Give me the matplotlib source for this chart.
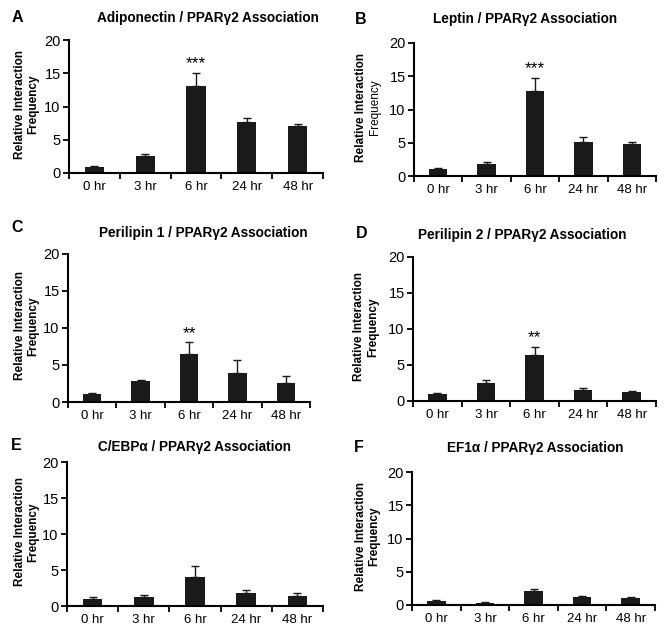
import matplotlib.pyplot as plt
import numpy as np

plt.rcParams['font.family'] = ['Liberation Sans', 'DejaVu Sans']

times = ['0 hr', '3 hr', '6 hr', '24 hr', '48 hr']

titles = ['Adiponectin / PPARγ2 Association',
          'Leptin / PPARγ2 Association',
          'Perilipin 1 / PPARγ2 Association',
          'Perilipin 2 / PPARγ2 Association',
          'C/EBPα / PPARγ2 Association',
          'EF1α / PPARγ2 Association']
letters = ['A', 'B', 'C', 'D', 'E', 'F']

adiponectin = [0.9, 2.6, 13.15, 7.65, 7.0]
adiponectin_err = [0.2, 0.25, 1.95, 0.6, 0.4]
leptin = [1.0, 1.8, 12.85, 5.15, 4.75]
leptin_err = [0.2, 0.35, 1.9, 0.75, 0.4]
perilipin1 = [1.05, 2.85, 6.55, 3.95, 2.6]
perilipin1_err = [0.15, 0.15, 1.5, 1.7, 0.9]
perilipin2 = [1.0, 2.45, 6.45, 1.55, 1.2]
perilipin2_err = [0.15, 0.4, 1.05, 0.25, 0.15]
cebpa = [0.97, 1.25, 4.0, 1.8, 1.35]
cebpa_err = [0.28, 0.25, 1.5, 0.4, 0.5]
ef1a = [0.65, 0.35, 2.05, 1.15, 1.0]
ef1a_err = [0.1, 0.1, 0.4, 0.15, 0.25]

stars = ['***', '***', '**', '**', '', '']

series = [(adiponectin, adiponectin_err), (leptin, leptin_err),
          (perilipin1, perilipin1_err), (perilipin2, perilipin2_err),
          (cebpa, cebpa_err), (ef1a, ef1a_err)]

W, H = 666, 635
fig = plt.figure(figsize=(W / 100, H / 100), dpi=100)

# axes boxes in pixels: left, right, top, bottom
boxes = [(69, 323, 40, 173), (414, 656, 43, 176),
         (68, 310, 254, 402), (413, 656, 257, 401),
         (67, 323, 462, 606), (412, 655, 472, 605)]
# title centre x, title y, letter x, letter y
title_pos = [(208, 18, 17, 18), (525, 19, 361, 19), (203, 233, 17, 228),
             (522, 235, 362, 234), (195, 447, 16, 446), (535, 448, 359, 447)]
# y label line x centres (pixels)
ylab_x = [(20.5, 33.5), (360.5, 375.5), (20.5, 33.5),
          (359, 373), (20, 33), (360.5, 374.5)]
freq_weight = ['bold', 'normal', 'bold', 'bold', 'bold', 'bold']

x = np.arange(len(times))
for i, (vals, errs) in enumerate(series):
    l, r, t, b = boxes[i]
    ax = fig.add_axes([l / W, 1 - b / H, (r - l) / W, (b - t) / H])
    ax.bar(x, vals, width=0.38, color='#1a1a1a', zorder=2)
    ax.errorbar(x, vals, yerr=[np.zeros(len(errs)), errs], fmt='none',
                ecolor='#1a1a1a', elinewidth=1, capsize=3, capthick=1)
    ax.set_xlim(-0.5, len(times) - 0.5)
    ax.set_ylim(0, 20)
    ax.set_yticks([0, 5, 10, 15, 20])
    ax.set_xticks(x)
    ax.set_xticklabels(times)
    ax.set_xticks(np.arange(len(times) + 1) - 0.5, minor=True)
    ax.tick_params(axis='x', which='major', length=0, pad=6, labelsize=9.5)
    ax.tick_params(axis='x', which='minor', length=4, width=1.3, direction='out')
    ax.tick_params(axis='y', length=4, width=1.3, direction='out', labelsize=10.5, pad=2)
    for s in ['top', 'right']:
        ax.spines[s].set_visible(False)
    for s in ['left', 'bottom']:
        ax.spines[s].set_linewidth(1.5)
    yc = 1 - ((t + b) / 2 - 2) / H
    fig.text(ylab_x[i][0] / W, yc, 'Relative Interaction', rotation=90,
             ha='center', va='center', fontsize=8.5, fontweight='bold')
    fig.text(ylab_x[i][1] / W, yc, 'Frequency', rotation=90,
             ha='center', va='center', fontsize=8.5, fontweight=freq_weight[i])
    if stars[i]:
        ax.text(2, vals[2] + errs[2] + 0.2, stars[i], ha='center', va='bottom',
                fontsize=12.5)
    tx, ty, lx, ly = title_pos[i]
    fig.text(tx / W, 1 - ty / H, titles[i], ha='center', va='center',
             fontsize=9.8, fontweight='bold')
    fig.text(lx / W, 1 - ly / H, letters[i], ha='center', va='center',
             fontsize=11.5, fontweight='bold')

fig.savefig('out.png', dpi=100)
